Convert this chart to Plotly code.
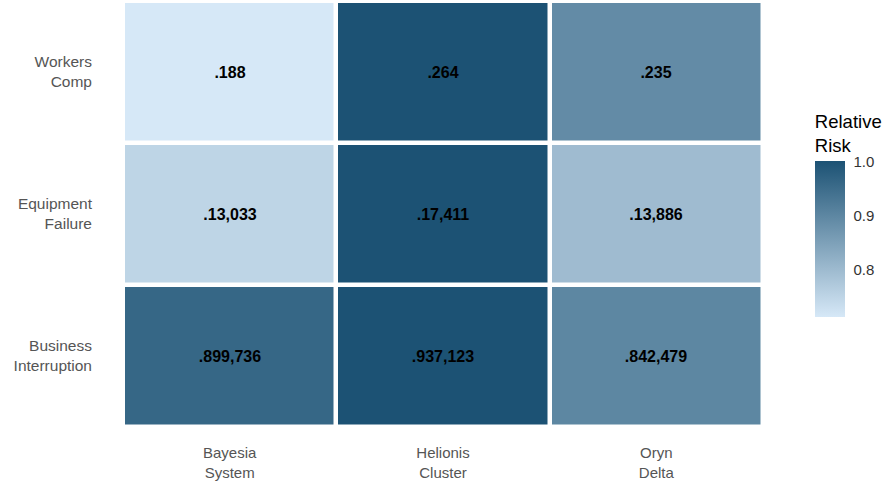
import plotly.graph_objects as go

# Data
regions = ["Bayesia<br>System", "Helionis<br>Cluster", "Oryn<br>Delta"]
perils = ["Business<br>Interruption", "Equipment<br>Failure", "Workers<br>Comp"]

business_interruption = [899736, 937123, 842479]
equipment_failure = [13033, 17411, 13886]
workers_comp = [0.188, 0.264, 0.235]

bi_labels = [".899,736", ".937,123", ".842,479"]
ef_labels = [".13,033", ".17,411", ".13,886"]
wc_labels = [".188", ".264", ".235"]

rows = [business_interruption, equipment_failure, workers_comp]
labels = [bi_labels, ef_labels, wc_labels]

# relative risk = value / row max
z = [[v / max(r) for v in r] for r in rows]
zmin = min(min(r) for r in z)

FONT = "Liberation Sans, Arial, sans-serif"

fig = go.Figure(go.Heatmap(
    x=regions, y=perils, z=z, text=labels,
    texttemplate="<b>%{text}</b>",
    textfont=dict(family=FONT, size=16, color="black"),
    colorscale=[[0, "#d6e8f7"], [1, "#1c5274"]],
    zmin=zmin, zmax=1.0,
    xgap=4.5, ygap=4.5,
    hoverinfo="skip",
    colorbar=dict(
        title=dict(text="Relative<br>Risk", side="top",
                   font=dict(family=FONT, size=18.5, color="black")),
        thickness=30, len=0.483, lenmode="fraction",
        x=1.081, xanchor="left", y=0.741, yanchor="top",
        outlinewidth=0, xpad=0, ypad=0,
        tickvals=[0.8, 0.9, 1.0], ticktext=["0.8", "0.9", "1.0"],
        ticks="outside", tickcolor="white", ticklen=6,
        tickfont=dict(family=FONT, size=15, color="#333"),
    ),
))

fig.update_layout(
    width=886, height=483,
    margin=dict(l=123, r=123, t=1, b=56, autoexpand=False),
    paper_bgcolor="white", plot_bgcolor="white",
    font=dict(family=FONT, size=15, color="#555"),
)
fig.update_xaxes(showgrid=False, zeroline=False, ticks="", ticklabelstandoff=15,
                 tickfont=dict(family=FONT, size=15, color="#555"))
fig.update_yaxes(showgrid=False, zeroline=False, ticks="", ticklabelstandoff=30,
                 tickfont=dict(family=FONT, size=15.5, color="#555"))

# drop the default page margin so the figure sits at the window's corner
fig.write_html("out.html", config={"displayModeBar": False},
               post_script="document.body.style.margin='0px';")
